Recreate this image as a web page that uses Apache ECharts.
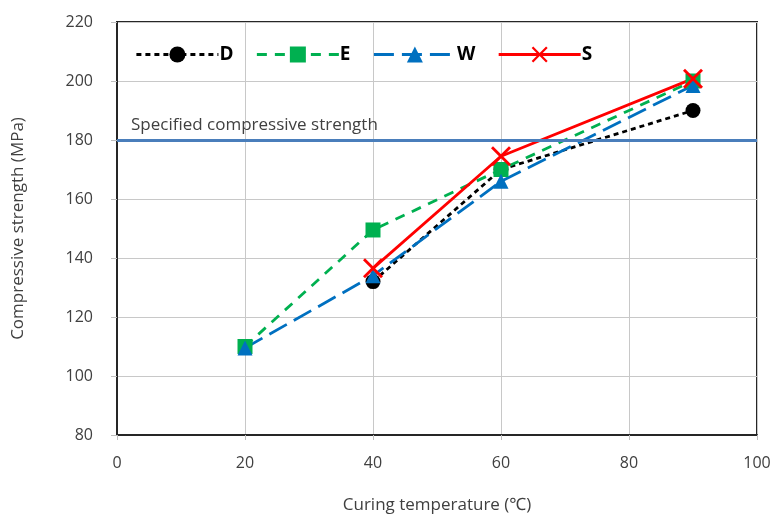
<!DOCTYPE html>
<html>
<head>
<meta charset="utf-8">
<script src="https://cdn.jsdelivr.net/npm/echarts@6/dist/echarts.min.js"></script>
<style>
  html, body { margin: 0; padding: 0; background: #fff; }
  #chart { width: 774px; height: 515px; }
</style>
</head>
<body>
<div id="chart"></div>
<script>
// curing temperature (x) and strengths per series
var temps = [20, 40, 60, 90];
var seriesD = [null, 132, 170, 190];
var seriesE = [110, 149.5, 170, 200];
var seriesW = [109.5, 134, 166, 198.5];
var seriesS = [null, 136.5, 174.5, 200.8];
var specLimit = 180;

function pairs(vals) {
  return temps.map(function (t, i) { return [t, vals[i]]; });
}

var fontFam = "'Open Sans', 'Noto Sans', sans-serif";
var crossPath = "path://M0,2L2,0L10,8L18,0L20,2L12,10L20,18L18,20L10,12L2,20L0,18L8,10Z";

var myChart = echarts.init(document.getElementById("chart"));
myChart.setOption({
  animation: false,
  textStyle: { fontFamily: fontFam },
  grid: {
    left: 117, right: 17, top: 22, bottom: 80,
    outerBoundsMode: "none", containLabel: false,
    show: true, borderColor: "#262626", borderWidth: 2
  },
  legend: {
    left: 130, top: 40,
    itemWidth: 82, itemHeight: 20, itemGap: 22,
    lineStyle: { width: 2.8 },
    textStyle: { fontSize: 19, fontWeight: "bold", color: "#000", padding: [0, 0, 0, -4] },
    data: ["D", "E", "W", "S"]
  },
  xAxis: {
    type: "value", min: 0, max: 100, interval: 20,
    name: "Curing temperature (\u2103)", nameLocation: "middle", nameGap: 62,
    nameTextStyle: { fontSize: 17, color: "#404040" },
    axisLine: { show: true, lineStyle: { color: "#262626", width: 2 } },
    axisTick: { show: true, length: 5, lineStyle: { color: "#bfbfbf" } },
    axisLabel: { fontSize: 16, color: "#404040", margin: 20 },
    splitLine: { show: true, lineStyle: { color: "#c8c8c8", width: 1 } }
  },
  yAxis: {
    type: "value", min: 80, max: 220, interval: 20,
    name: "Compressive strength (MPa)", nameLocation: "middle", nameGap: 90,
    nameTextStyle: { fontSize: 17, color: "#404040" },
    axisLine: { show: true, lineStyle: { color: "#262626", width: 2 } },
    axisTick: { show: true, length: 6, lineStyle: { color: "#bfbfbf" } },
    axisLabel: { fontSize: 16, color: "#404040", margin: 24 },
    splitLine: { show: true, lineStyle: { color: "#c8c8c8", width: 1 } }
  },
  series: [
    {
      name: "D", type: "line", data: pairs(seriesD),
      symbol: "circle", symbolSize: 15,
      itemStyle: { color: "#000" },
      lineStyle: { color: "#000", width: 2.8, type: [5, 4] },
      markLine: {
        silent: true, symbol: "none",
        lineStyle: { color: "#4a7ebb", width: 3, type: "solid" },
        label: {
          position: "insideStartTop", formatter: "Specified compressive strength",
          fontSize: 17, color: "#404040", distance: [14, 6]
        },
        data: [{ yAxis: specLimit }]
      }
    },
    {
      name: "E", type: "line", data: pairs(seriesE),
      symbol: "rect", symbolSize: 15,
      itemStyle: { color: "#00b050" },
      lineStyle: { color: "#00b050", width: 2.8, type: [10, 8] }
    },
    {
      name: "W", type: "line", data: pairs(seriesW),
      symbol: "triangle", symbolSize: 15,
      itemStyle: { color: "#0070c0" },
      lineStyle: { color: "#0070c0", width: 2.8, type: [20, 8] }
    },
    {
      name: "S", type: "line", data: pairs(seriesS),
      symbol: crossPath, symbolSize: 20,
      itemStyle: { color: "#ff0000" },
      lineStyle: { color: "#ff0000", width: 2.8 }
    }
  ]
});
</script>
</body>
</html>
